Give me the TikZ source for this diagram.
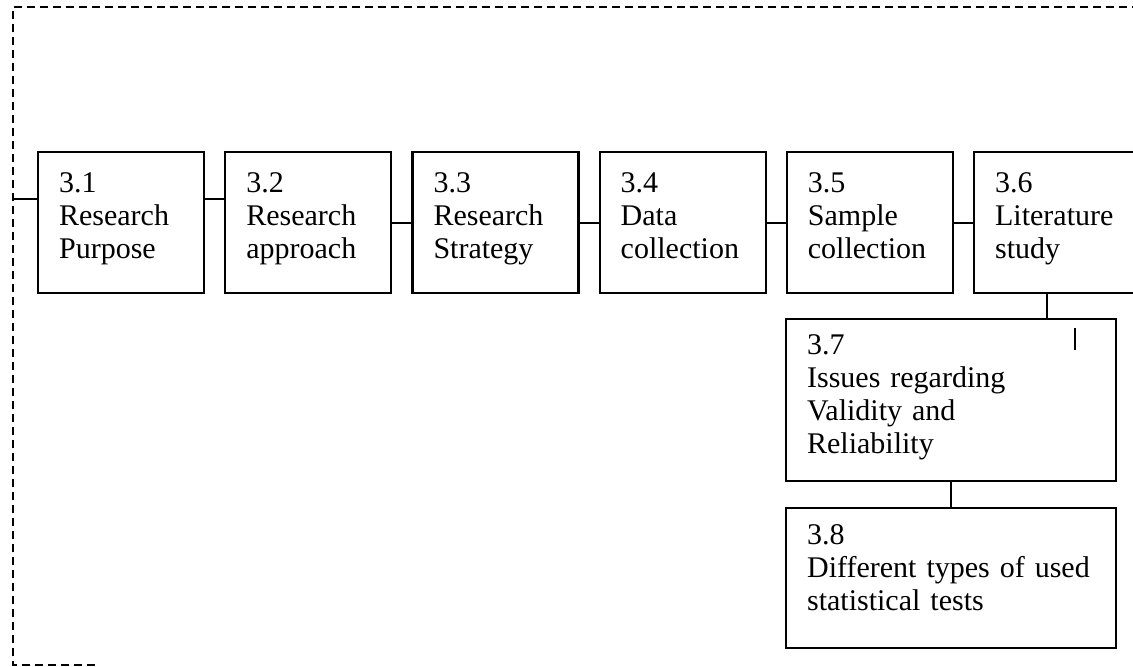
\documentclass[tikz,border=0pt]{standalone}
\usepackage{fontspec}
\setmainfont{Liberation Serif}
\usetikzlibrary{positioning}

\tikzset{
  stepbox/.style={draw, line width=1.1pt, align=left, inner xsep=10.5pt, inner ysep=0pt,
    font=\fontsize{15}{16.5}\selectfont},
  rowbox/.style={stepbox, anchor=north west, text width=62pt, text height=20pt, text depth=50.5pt},
  widebox/.style={stepbox, anchor=north west, text width=144pt},
  frame/.style={line width=1.2pt, dash pattern=on 4pt off 2.5pt},
  link/.style={line width=1pt}
}

\begin{document}
\begin{tikzpicture}[x=0.5pt, y=-0.5pt, node distance=9.5pt]
  \clip (0,0) rectangle (1133,667);
  \draw[frame] (95,665) -- (13,665) -- (13,7) -- (1140,7);

  % chapter steps
  \node[rowbox] (s31) at (37,151) {3.1\\Research\\Purpose};
  \node[rowbox, right=of s31] (s32) {3.2\\Research\\approach};
  \node[rowbox, right=of s32] (s33) {3.3\\Research\\Strategy};
  \node[rowbox, right=of s33] (s34) {3.4\\Data\\collection};
  \node[rowbox, right=of s34] (s35) {3.5\\Sample\\collection};
  \node[rowbox, right=of s35] (s36) {3.6\\Literature\\study};
  \node[widebox, text height=17.5pt, text depth=63.5pt] (s37) at (785,318)
    {3.7\\Issues regarding\\Validity and\\Reliability};
  \node[widebox, text height=18pt, text depth=52pt] (s38) at (785,507)
    {3.8\\Different types of used\\statistical tests};
  \coordinate (in) at ([yshift=11.75pt]s31.west -| 13,0);

  \path[link]
    (in) edge ([yshift=11.75pt]s31.west)
    ([yshift=11.75pt]s31.east) edge ([yshift=11.75pt]s32.west)
    (s32) edge (s33)
    (s33) edge (s34)
    (s34) edge (s35)
    (s35) edge (s36)
    ([xshift=-5pt]s36.south) edge ([xshift=-5pt]s36.south |- s37.north)
    (s37) edge (s38);
  \draw[line width=1.2pt] (1075,328) -- (1075,350);
\end{tikzpicture}
\end{document}
